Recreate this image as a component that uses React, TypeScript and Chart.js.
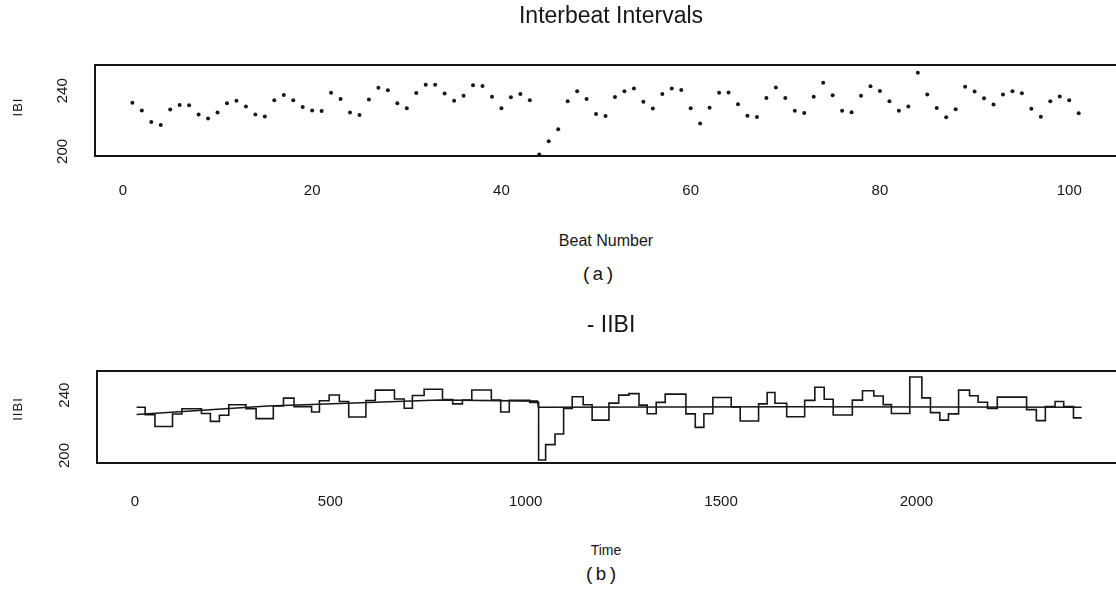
import React, { useEffect, useRef } from 'react';
import { Chart, registerables } from 'chart.js';

Chart.register(...registerables);

// ---------- data ----------
// Panel (a): interbeat interval of each beat (beat number = position + 1)
const ibiValues: number[] = [
  232.1, 227.0, 219.4, 217.5, 227.7, 230.6, 230.5, 224.3, 221.7, 225.7,
  231.7, 233.5, 229.7, 224.3, 223.0, 233.7, 237.3, 233.7, 229.3, 227.0,
  226.7, 238.7, 234.6, 225.7, 224.0, 234.3, 242.0, 240.4, 231.8, 228.5,
  238.5, 243.9, 244.0, 238.2, 233.5, 236.7, 243.7, 243.1, 236.0, 228.5,
  235.7, 237.8, 233.7, 198.0, 206.8, 214.7, 233.1, 239.7, 234.6, 224.7,
  223.3, 235.9, 239.7, 241.5, 232.7, 228.3, 237.8, 241.5, 240.5, 228.5,
  218.5, 228.8, 238.7, 238.8, 231.1, 223.5, 222.7, 235.3, 242.1, 235.3,
  226.9, 225.3, 236.1, 245.3, 237.0, 226.9, 225.9, 236.8, 243.0, 239.8,
  233.1, 226.8, 229.7, 251.9, 237.5, 228.6, 222.6, 227.9, 242.7, 239.5,
  235.1, 231.0, 237.6, 239.7, 238.4, 228.1, 222.9, 233.1, 236.2, 233.7,
  225.2,
];
const beatTicks: number[] = [0, 20, 40, 60, 80, 100];
const ibiTicks: number[] = [200, 240];

// Panel (b): instantaneous IBI as a step function of time
const stepTimes: number[] = [
  4, 26, 51, 96, 120, 170, 193, 216, 240, 284,
  310, 354, 380, 407, 452, 472, 497, 523, 547, 591,
  615, 664, 689, 710, 740, 787, 813, 838, 862, 912,
  936, 958, 1010, 1033, 1051, 1075, 1097, 1119, 1147, 1170,
  1213, 1238, 1264, 1290, 1311, 1334, 1357, 1410, 1434, 1456,
  1479, 1526, 1549, 1596, 1618, 1638, 1668, 1714, 1740, 1764,
  1787, 1836, 1862, 1891, 1915, 1936, 1983, 2014, 2036, 2060,
  2082, 2108, 2136, 2158, 2182, 2207, 2282, 2307, 2330, 2355,
  2377, 2402, 2423,
];
const stepValues: number[] = [
  232.0, 227.1, 219.2, 227.5, 231.0, 227.8, 222.6, 226.7, 233.6, 231.0,
  224.4, 232.9, 238.0, 232.4, 228.8, 236.3, 240.1, 235.8, 225.5, 236.4,
  243.3, 237.4, 231.3, 239.8, 243.9, 237.0, 234.2, 236.8, 243.4, 236.8,
  228.8, 236.6, 235.2, 197.0, 207.2, 214.2, 231.2, 238.9, 233.6, 223.4,
  234.7, 240.0, 241.0, 233.4, 227.7, 235.2, 240.7, 227.6, 218.6, 227.7,
  238.4, 232.2, 222.8, 234.2, 241.7, 234.6, 225.7, 236.5, 245.2, 237.3,
  226.8, 236.7, 242.9, 239.4, 233.7, 227.8, 252.0, 238.2, 228.4, 223.4,
  227.6, 243.3, 239.6, 235.3, 231.1, 238.7, 230.4, 223.1, 232.5, 235.8,
  232.4, 224.9, 224.9,
];
const trendTimes: number[] = [4, 340, 780, 1030, 1033, 1700, 2423];
const trendValues: number[] = [227.2, 232.8, 236.8, 236.0, 232.0, 232.3, 232.0];
const timeTicks: number[] = [0, 500, 1000, 1500, 2000];
const iibiTicks: number[] = [200, 240];

// ---------- styling ----------
const INK = '#161616';
const SANS = '"Liberation Sans", Arial, Helvetica, sans-serif';
const MONO = '"Liberation Mono", "Courier New", monospace';
const CANVAS_W = 1130;

const framePlugin = {
  id: 'frame',
  afterDatasetsDraw(chart: any) {
    const { ctx, chartArea: a } = chart;
    ctx.save();
    ctx.strokeStyle = INK;
    ctx.lineWidth = 2;
    ctx.strokeRect(a.left, a.top, a.right - a.left, a.bottom - a.top);
    ctx.restore();
  },
};

const plain = (v: any) => String(v);

function axisX(min: number, max: number, ticks: number[], height: number, pad: number) {
  return {
    type: 'linear' as const,
    min,
    max,
    grid: { display: false, drawTicks: false },
    border: { display: false },
    afterBuildTicks: (s: any) => {
      s.ticks = ticks.map((v) => ({ value: v }));
    },
    afterFit: (s: any) => {
      s.height = height;
    },
    ticks: {
      autoSkip: false,
      maxRotation: 0,
      padding: pad,
      color: INK,
      font: { family: SANS, size: 15 },
      callback: plain,
    },
  };
}

function axisY(min: number, max: number, ticks: number[], width: number) {
  return {
    type: 'linear' as const,
    min,
    max,
    grid: { display: false, drawTicks: false },
    border: { display: false },
    afterBuildTicks: (s: any) => {
      s.ticks = ticks.map((v) => ({ value: v }));
    },
    afterFit: (s: any) => {
      s.width = width;
    },
    ticks: {
      minRotation: 90,
      maxRotation: 90,
      crossAlign: 'center' as const,
      padding: 20,
      color: INK,
      font: { family: SANS, size: 15 },
      callback: plain,
    },
  };
}

const Label: React.FC<{ x: number; y: number; size: number; family?: string; rotate?: boolean; spacing?: number; children: React.ReactNode }> = ({ x, y, size, family, rotate, spacing, children }) => (
  <div
    style={{
      position: 'absolute',
      left: x,
      top: y,
      transform: `translate(-50%, -50%)${rotate ? ' rotate(-90deg)' : ''}`,
      fontFamily: family || SANS,
      fontSize: size,
      lineHeight: 1,
      whiteSpace: 'nowrap',
      color: INK,
      letterSpacing: spacing || 0,
    }}
  >
    {children}
  </div>
);

export default function App() {
  const topRef = useRef<HTMLCanvasElement>(null);
  const botRef = useRef<HTMLCanvasElement>(null);

  useEffect(() => {
    const top = new Chart(topRef.current!, {
      type: 'scatter',
      data: {
        datasets: [
          {
            data: ibiValues.map((v, i) => ({ x: i + 1, y: v })),
            pointRadius: 2,
            pointBackgroundColor: INK,
            pointBorderWidth: 0,
            showLine: false,
          },
        ],
      },
      options: {
        animation: false,
        responsive: false,
        maintainAspectRatio: false,
        layout: { padding: { top: 65, left: 0, right: 0, bottom: 0 } },
        plugins: { legend: { display: false }, tooltip: { enabled: false }, title: { display: false } },
        scales: {
          x: axisX(-2.947, 106, beatTicks, 54, 26),
          y: axisY(197, 257, ibiTicks, 95),
        },
      } as any,
      plugins: [framePlugin],
    });

    const stepData = stepTimes.map((t, i) => ({ x: t, y: stepValues[i] }));
    const trendData = trendTimes.map((t, i) => ({ x: t, y: trendValues[i] }));
    const bot = new Chart(botRef.current!, {
      type: 'line',
      data: {
        datasets: [
          {
            data: trendData,
            borderColor: INK,
            borderWidth: 1.6,
            pointRadius: 0,
            tension: 0,
            fill: false,
          },
          {
            data: stepData,
            borderColor: INK,
            borderWidth: 1.6,
            pointRadius: 0,
            stepped: true,
            fill: false,
          },
        ],
      },
      options: {
        animation: false,
        responsive: false,
        maintainAspectRatio: false,
        layout: { padding: { top: 71, left: 0, right: 0, bottom: 0 } },
        plugins: { legend: { display: false }, tooltip: { enabled: false }, title: { display: false } },
        scales: {
          x: axisX(-97.3, 2546.7, timeTicks, 57, 30),
          y: axisY(195, 256, iibiTicks, 97),
        },
      } as any,
      plugins: [framePlugin],
    });

    return () => {
      top.destroy();
      bot.destroy();
    };
  }, []);

  return (
    <div
      style={{
        position: 'absolute',
        left: 0,
        top: 0,
        width: 1116,
        height: 590,
        overflow: 'hidden',
        background: '#fff',
      }}
    >
      <canvas
        ref={topRef}
        width={CANVAS_W}
        height={210}
        style={{ position: 'absolute', left: 0, top: 0, width: CANVAS_W, height: 210 }}
      />
      <canvas
        ref={botRef}
        width={CANVAS_W}
        height={220}
        style={{ position: 'absolute', left: 0, top: 300, width: CANVAS_W, height: 220 }}
      />
      <Label x={611} y={15} size={23}>Interbeat Intervals</Label>
      <Label x={17} y={107} size={13} rotate spacing={1}>IBI</Label>
      <Label x={606} y={241} size={16}>Beat Number</Label>
      <Label x={598} y={275} size={19} family={MONO}>(a)</Label>
      <Label x={611} y={324} size={23}>- IIBI</Label>
      <Label x={17} y={409} size={13} rotate spacing={1}>IIBI</Label>
      <Label x={606} y={550} size={14}>Time</Label>
      <Label x={601} y={575} size={19} family={MONO}>(b)</Label>
    </div>
  );
}
